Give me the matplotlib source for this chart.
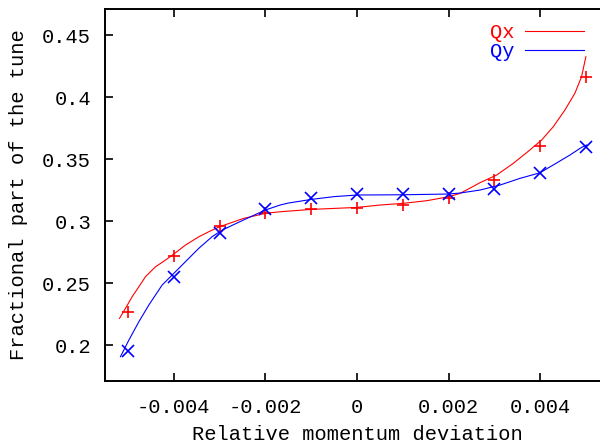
import matplotlib.pyplot as plt

# tracked tune values at each momentum offset
dp = [-0.005, -0.004, -0.003, -0.002, -0.001, 0.0, 0.001, 0.002, 0.003, 0.004, 0.005]
qx = [0.2269, 0.2720, 0.2960, 0.3062, 0.3094, 0.3102, 0.3129, 0.3183, 0.3331, 0.3605, 0.4159]
qy = [0.1954, 0.2551, 0.2901, 0.3094, 0.3183, 0.3215, 0.3215, 0.3218, 0.3258, 0.3385, 0.3597]

# fitted chromaticity curves
dp_x = [-0.005184, -0.005053, -0.004907, -0.004761, -0.004617, -0.004399, -0.004181,
        -0.003998, -0.003745, -0.003453, -0.003234, -0.00300, -0.00248, -0.00200,
        -0.00168, -0.00139, -0.00099, 0.0, 0.00050, 0.00101, 0.00152, 0.00200,
        0.00225, 0.00254, 0.002683, 0.003047, 0.003410, 0.003773, 0.004028,
        0.004282, 0.004537, 0.004755, 0.004901, 0.004995]
qx_fit = [0.2215, 0.2296, 0.2390, 0.2470, 0.2551, 0.2631, 0.2685,
          0.2734, 0.2806, 0.2873, 0.2914, 0.2954, 0.3021, 0.3062,
          0.3075, 0.3083, 0.3094, 0.3110, 0.3129, 0.3143, 0.3164, 0.3196,
          0.3223, 0.3280, 0.3309, 0.3371, 0.3465, 0.3573, 0.3653,
          0.3760, 0.3895, 0.4030, 0.4164, 0.4325]
dp_y = [-0.005163, -0.004979, -0.004761, -0.004543, -0.004253, -0.003998, -0.003745,
        -0.003453, -0.003162, -0.002944, -0.00248, -0.00200, -0.00168, -0.00150,
        -0.00099, -0.00050, 0.0, 0.00101, 0.00200, 0.00225, 0.002683, 0.003119,
        0.003555, 0.003991, 0.004282, 0.004646, 0.004901, 0.00501]
qy_fit = [0.1906, 0.2040, 0.2188, 0.2323, 0.2484, 0.2578, 0.2672,
          0.2780, 0.2874, 0.2927, 0.3008, 0.3089, 0.3129, 0.3145,
          0.3175, 0.3197, 0.3210, 0.3212, 0.3218, 0.3226, 0.3250, 0.3290,
          0.3344, 0.3389, 0.3452, 0.3532, 0.3594, 0.3613]

xticks = [-0.004, -0.002, 0.0, 0.002, 0.004]
xticklabels = ['-0.004', '-0.002', '0', '0.002', '0.004']
yticks = [0.2, 0.25, 0.3, 0.35, 0.4, 0.45]
yticklabels = ['0.2', '0.25', '0.3', '0.35', '0.4', '0.45']

plt.rcParams['font.family'] = ['Liberation Mono', 'DejaVu Sans Mono']
fs = 14.7

fig = plt.figure(figsize=(6, 4.46), dpi=100)
ax = fig.add_axes([0.175, 0.1457, 0.84, 0.8341])

ax.plot(dp_x, qx_fit, color='red', lw=0.8, label='Qx')
ax.plot(dp_y, qy_fit, color='blue', lw=0.8, label='Qy')
ax.plot(dp, qx, ls='none', marker='+', ms=9, mew=1.2, color='red')
ax.plot(dp, qy, ls='none', marker='x', ms=8, mew=1.2, color='blue')

ax.set_xlim(-0.0055, 0.0055)
ax.set_ylim(0.171, 0.471)
ax.set_xticks(xticks)
ax.set_xticklabels(xticklabels)
ax.set_yticks(yticks)
ax.set_yticklabels(yticklabels)
ax.tick_params(direction='in', length=6, width=1.2, top=True, right=True,
               labelsize=fs)
ax.tick_params(axis='x', pad=12)
ax.tick_params(axis='y', pad=10)
for s in ax.spines.values():
    s.set_linewidth(1.4)

ax.set_xlabel('Relative momentum deviation', fontsize=fs, labelpad=6)
ax.set_ylabel('Fractional part of the tune', fontsize=fs, labelpad=10)

ax.legend(loc='upper right', bbox_to_anchor=(0.973, 0.948), bbox_transform=fig.transFigure,
          frameon=False, markerfirst=False, fontsize=fs, labelcolor='linecolor',
          handlelength=2.9, handletextpad=0.5, labelspacing=0.0, borderpad=0,
          borderaxespad=0)

fig.savefig('out.png', dpi=100)
